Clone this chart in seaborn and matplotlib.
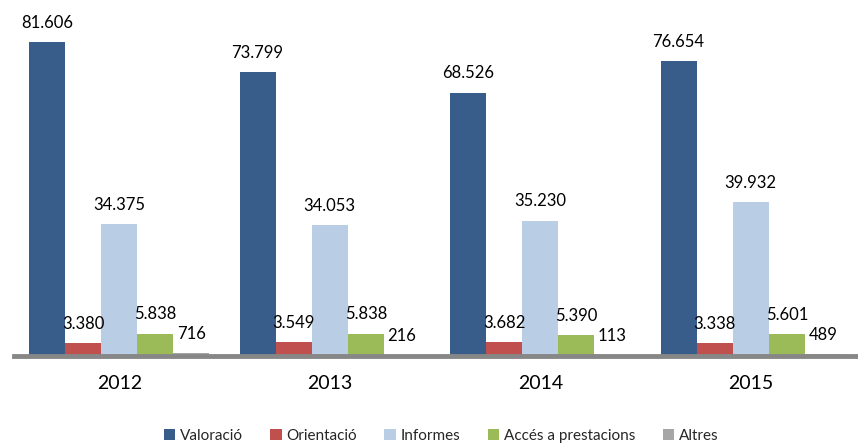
import matplotlib
matplotlib.use("Agg")
import matplotlib.pyplot as plt
import seaborn as sns
import pandas as pd
from matplotlib.patches import Patch

years = ["2012", "2013", "2014", "2015"]
categories = ["Valoració", "Orientació", "Informes", "Accés a prestacions", "Altres"]
valoracio = [81606, 73799, 68526, 76654]
orientacio = [3380, 3549, 3682, 3338]
informes = [34375, 34053, 35230, 39932]
acces = [5838, 5838, 5390, 5601]
altres = [716, 216, 113, 489]
colors = ["#385D8A", "#C0504D", "#B9CDE5", "#9BBB59", "#A6A6A6"]

series = [valoracio, orientacio, informes, acces, altres]
rows = []
for cat, vals in zip(categories, series):
    for y, v in zip(years, vals):
        rows.append({"year": y, "category": cat, "value": v})
df = pd.DataFrame(rows)

sns.set_theme(style="white")
plt.rcParams["font.family"] = ["Lato", "DejaVu Sans"]

fig = plt.figure(figsize=(8.58, 4.43), dpi=100)
ax = fig.add_axes([14 / 858, 87 / 443, 842 / 858, (346) / 443])

sns.barplot(data=df, x="year", y="value", hue="category", order=years,
            hue_order=categories, palette=colors, saturation=1, width=0.857,
            legend=False, ax=ax, errorbar=None, linewidth=0)

for cont in ax.containers:
    ax.bar_label(cont, labels=[f"{int(round(b.get_height())):,}".replace(",", ".") for b in cont],
                 padding=8, fontsize=12, color="#000000")

ax.set_ylim(0, 90000)
ax.set_xlim(-0.5, 3.5)
ax.set_xlabel("")
ax.set_ylabel("")
ax.set_yticks([])
for s in ["top", "left", "right"]:
    ax.spines[s].set_visible(False)
ax.spines["bottom"].set_color("#878787")
ax.spines["bottom"].set_linewidth(3.5)
ax.tick_params(axis="x", length=0, labelsize=14, pad=14, colors="#000000")

handles = [Patch(facecolor=c, edgecolor="none") for c in colors]
fig.legend(handles, categories, loc="center", bbox_to_anchor=(441 / 858, 7 / 443),
           ncol=5, frameon=False, fontsize=11, handlelength=0.75, handleheight=0.75,
           handletextpad=0.3, columnspacing=1.8, borderaxespad=0, borderpad=0)

fig.savefig("out.png", dpi=100)
